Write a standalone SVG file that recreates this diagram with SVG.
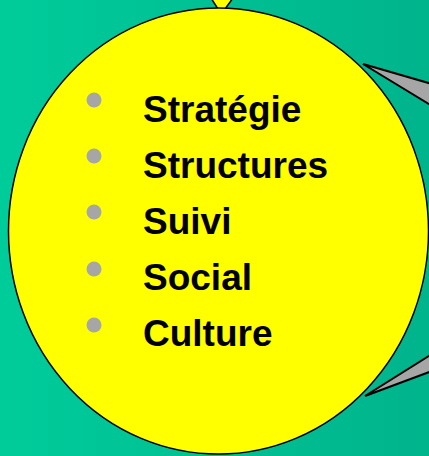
<svg xmlns="http://www.w3.org/2000/svg" width="429" height="456" viewBox="0 0 429 456">
<defs>
<linearGradient id="bg" x1="0" y1="0" x2="1" y2="0">
<stop offset="0" stop-color="#00cc9a"/>
<stop offset="1" stop-color="#00b48c"/>
</linearGradient>
</defs>
<style>
.wedge{fill:#a6a6a6;stroke:#000;stroke-width:2;stroke-linejoin:miter}
.bul{fill:#a6a6a6}
.lbl{font-family:"Liberation Sans",Arial,sans-serif;font-weight:bold;font-size:37px;fill:#000}
</style>
<rect width="429" height="456" fill="url(#bg)"/>
<g id="connectors">
<polygon class="wedge" points="363,64 432,84 432,106"/>
<polygon class="wedge" points="365,396 432,354 432,371"/>
<polygon points="211,-2 233,-2 225,9 218,9" fill="#ffff00" stroke="#000" stroke-width="1.5"/>
</g>
<g id="ellipse">
<ellipse cx="218.5" cy="231" rx="210" ry="223" fill="#ffff00" stroke="#000" stroke-width="1.5"/>
</g>
<g id="items">
<circle class="bul" cx="94" cy="100" r="7.5"/>
<text class="lbl" x="143" y="122">Stratégie</text>
<circle class="bul" cx="94" cy="156" r="7.5"/>
<text class="lbl" x="143" y="178">Structures</text>
<circle class="bul" cx="94" cy="212" r="7.5"/>
<text class="lbl" x="143" y="234">Suivi</text>
<circle class="bul" cx="94" cy="269" r="7.5"/>
<text class="lbl" x="143" y="290">Social</text>
<circle class="bul" cx="94" cy="325" r="7.5"/>
<text class="lbl" x="143" y="346">Culture</text>
</g>
</svg>
